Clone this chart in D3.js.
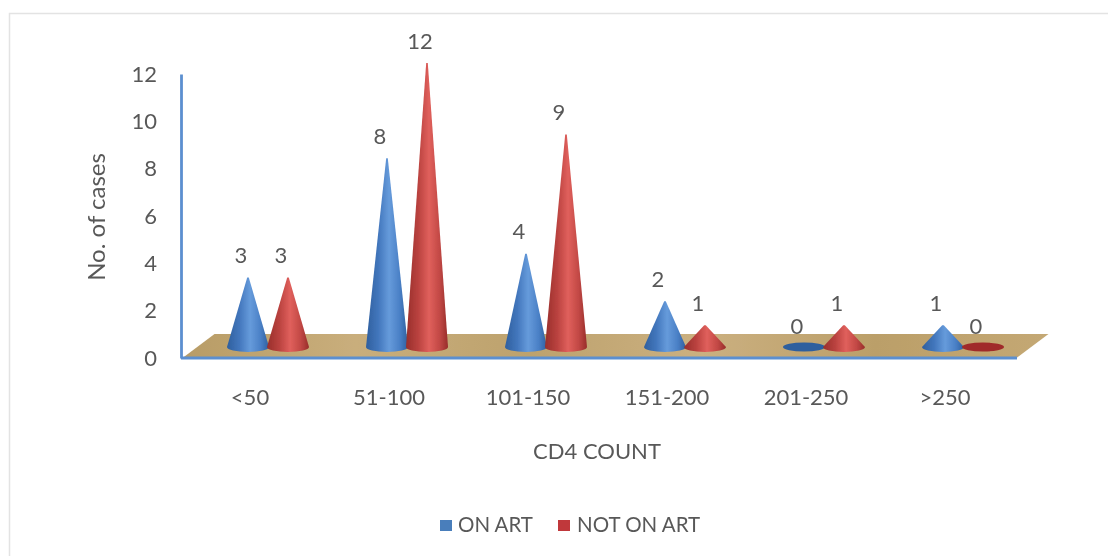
<!DOCTYPE html>
<html><head><meta charset="utf-8">
<script src="https://cdn.jsdelivr.net/npm/d3@7"></script>
<style>html,body{margin:0;padding:0;background:#fff}svg{display:block}text{font-family:Lato,"Open Sans",sans-serif;fill:#595959}</style>
</head><body><div id="c"></div>
<script>
const categories=["<50","51-100","101-150","151-200","201-250",">250"];
const onArt=[3,8,4,2,0,1];
const notOnArt=[3,12,9,1,1,0];
const seriesNames=["ON ART","NOT ON ART"];
const yTicks=[0,2,4,6,8,10,12];

const W=1108,H=556;
const svg=d3.select("#c").append("svg").attr("width",W).attr("height",H);
const defs=svg.append("defs");
function grad(id,stops){
  const g=defs.append("linearGradient").attr("id",id);
  stops.forEach(([o,c])=>g.append("stop").attr("offset",o).attr("stop-color",c));
}
grad("gBlue",[[0,"#2f5f9e"],[.3,"#4377bd"],[.55,"#669bdb"],[.8,"#4a80c6"],[1,"#2f5f9e"]]);
grad("gRed",[[0,"#982e2b"],[.3,"#bb4340"],[.55,"#e0605c"],[.8,"#c24845"],[1,"#982e2b"]]);
grad("gFloor",[[0,"#b89c66"],[.2,"#c9ae7c"],[.4,"#bda26d"],[.6,"#cbb080"],[.8,"#bb9f69"],[1,"#c4a874"]]);
const soft=defs.append("filter").attr("id","soft");
soft.append("feGaussianBlur").attr("stdDeviation",.45);

// frame
svg.append("path").attr("d",`M9.5,${H}V13.5H${W}`).attr("fill","none").attr("stroke","#e3e3e3").attr("stroke-width",1.5);

const plot=svg.append("g").attr("filter","url(#soft)");
const yAxis=d3.scaleLinear().domain([0,12]).range([358,74]);
const yCone=d3.scaleLinear().domain([0,12]).range([349,63]);
const x0=d3.scaleBand().domain(categories).range([178.5,1012.5]);
const x1=d3.scaleBand().domain(seriesNames).range([69.5,149.5]);
const hw=21, ry=5;

// floor
const fy0=yAxis(0);
plot.append("path")
  .attr("d",`M${x0.range()[0]+4},${fy0}L${x0.range()[0]+36},334H${x0.range()[1]+36}L${x0.range()[1]+4},${fy0}Z`)
  .attr("fill","url(#gFloor)");
// axes lines
const ya=plot.append("g").attr("transform","translate(181,0)")
  .call(d3.axisLeft(yAxis).tickValues(yTicks).tickSize(0).tickPadding(24).tickFormat(d3.format("d")));
ya.select(".domain").attr("stroke","#5b8fd0").attr("stroke-width",2.8);
ya.selectAll("text").attr("font-size",22).style("text-anchor","end");
plot.append("line").attr("x1",181).attr("x2",1017).attr("y1",fy0).attr("y2",fy0).attr("stroke","#5b8fd0").attr("stroke-width",2.8);
const xa=plot.append("g").attr("transform","translate(2,398)")
  .call(d3.axisBottom(x0).tickSize(0).tickPadding(0));
xa.select(".domain").remove();
xa.selectAll("text").attr("font-size",22).attr("dy",".32em");

function cone(sel,cx,v,fill,flat){
  const base=yCone(0), ty=yCone(v);
  if(v===0){
    sel.append("ellipse").attr("cx",cx).attr("cy",base-2).attr("rx",hw).attr("ry",ry-0.5).attr("fill",flat);
    return;
  }
  sel.append("path")
    .attr("d",`M${cx-0.8},${ty}L${cx+0.8},${ty}L${cx+hw},${base-2}A${hw},${ry} 0 0 1 ${cx-hw},${base-2}Z`)
    .attr("fill",fill);
}
const labelDx=-7;
categories.forEach((c,i)=>{
  const g=plot.append("g");
  const a=x0(c)+x1(seriesNames[0]);
  const b=x0(c)+x1(seriesNames[1]);
  cone(g,a,onArt[i],"url(#gBlue)","#2f5f9e");
  cone(g,b,notOnArt[i],"url(#gRed)","#a02c2a");
  [[a,onArt[i]],[b,notOnArt[i]]].forEach(([cx,v])=>{
    const t=v===0?326:yCone(v)-22;
    g.append("text").attr("x",cx+labelDx).attr("y",t).attr("dy",".35em").attr("text-anchor","middle").attr("font-size",22).text(v);
  });
});

// titles
plot.append("text").attr("transform","translate(97,217) rotate(-90)").attr("text-anchor","middle").attr("dy",".35em").attr("font-size",24).text("No. of cases");
plot.append("text").attr("x",597).attr("y",451).attr("text-anchor","middle").attr("dy",".35em").attr("font-size",22).text("CD4 COUNT");
// legend
const leg=plot.append("g");
[[440,"#4a7ebb","ON ART",458],[558,"#c0393b","NOT ON ART",577]].forEach(([x,col,t,tx])=>{
  leg.append("rect").attr("x",x).attr("y",520).attr("width",12).attr("height",11).attr("fill",col);
  leg.append("text").attr("x",tx).attr("y",525).attr("dy",".35em").attr("font-size",20.5).text(t);
});
</script></body></html>
